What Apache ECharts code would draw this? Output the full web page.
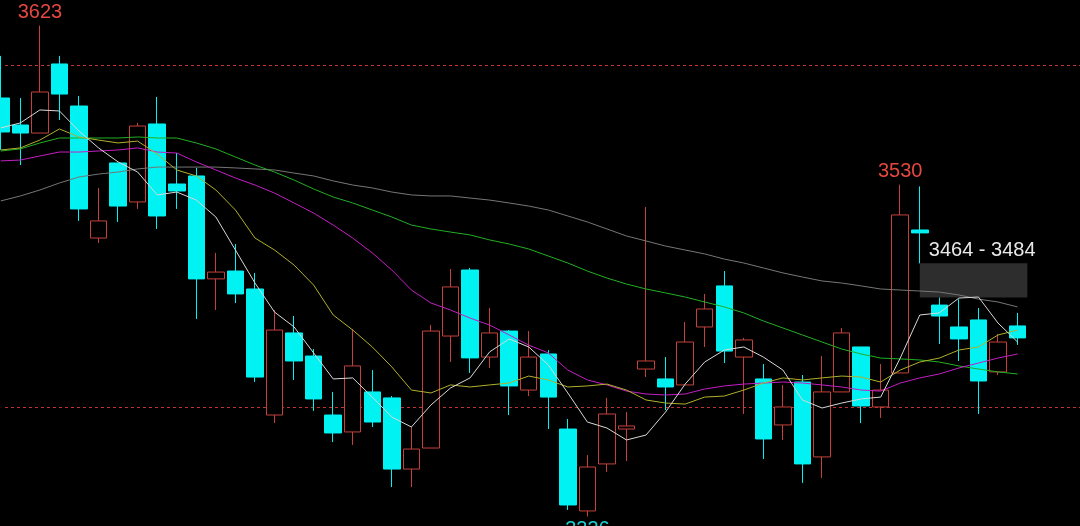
<!DOCTYPE html>
<html><head><meta charset="utf-8">
<script src="https://cdn.jsdelivr.net/npm/echarts@6/dist/echarts.min.js"></script>
<style>html,body{margin:0;padding:0;background:#000;overflow:hidden;width:1080px;height:526px;position:relative}
#c{position:absolute;left:-9px;top:0;width:1095px;height:526px;}</style>
</head><body><div id="c"></div>
<script>
// 56 category slots; 53 candles drawn, the last slots stay empty on the right
const categories = ['1','2','3','4','5','6','7','8','9','10','11','12','13','14','15','16','17','18','19','20',
 '21','22','23','24','25','26','27','28','29','30','31','32','33','34','35','36','37','38','39','40',
 '41','42','43','44','45','46','47','48','49','50','51','52','53','54','55','56'];

// [open, close, low, high]
const ohlc = [
 [3580.7,3560.8,3550.3,3605.3],[3564.9,3560.2,3541.5,3580.7],[3560.2,3584.2,3560.2,3623],[3600.6,3583.0,3567.8,3605.3],
 [3576.0,3515.8,3508.8,3581.9],[3498.8,3508.8,3495.9,3528.1],[3542.7,3517.5,3508.2,3542.7],[3519.9,3564.3,3515.8,3566.1],
 [3565.5,3511.7,3504.1,3581.3],[3530.4,3526.3,3515.8,3548.5],[3535.1,3474.9,3451.5,3539.8],[3474.9,3478.9,3456.7,3490.1],
 [3479.5,3466.1,3460.8,3495.3],[3469.0,3417.5,3414.6,3478.4],[3395.3,3445.0,3390.6,3456.7],[3443.3,3426.9,3415.8,3453.2],
 [3429.8,3404.7,3397.7,3433.9],[3395.3,3384.8,3379.5,3408.8],[3385.4,3424.0,3377.8,3445.6],[3408.8,3391.2,3388.3,3421.6],
 [3405.3,3363.7,3353.2,3406.4],[3363.7,3375.4,3353.2,3388.3],[3376.0,3444.4,3376.0,3448.0],[3441.5,3470.2,3426.3,3480.7],
 [3480.1,3428.7,3419.9,3481.3],[3429.2,3443.3,3422.8,3457.9],[3444.4,3412.3,3395.3,3445.0],[3409.9,3429.2,3406.4,3444.4],
 [3431.0,3405.8,3387.1,3433.3],[3387.1,3342.7,3339.8,3393.0],[3339.2,3364.9,3336,3371.9],[3366.7,3395.9,3362.0,3405.3],
 [3387.1,3388.9,3368.4,3397.1],[3422.2,3426.9,3417.5,3517.0],[3416.4,3411.7,3398.2,3429.2],[3412.9,3438.0,3412.9,3449.7],
 [3446.8,3457.3,3435.1,3466.1],[3470.8,3432.7,3425.7,3479.5],[3429.2,3439.2,3395.9,3440.4],[3416.4,3381.3,3369.6,3425.1],
 [3389.5,3400.0,3380.7,3412.9],[3414.6,3366.7,3355.6,3418.7],[3370.8,3408.8,3358.5,3429.8],[3408.8,3443.3,3408.8,3446.2],
 [3435.1,3400.6,3390.6,3435.1],[3400.0,3409.9,3393.6,3425.1],[3419.9,3512.3,3419.9,3530],[3503.5,3501.8,3484,3529],
 [3459.6,3453.2,3436.8,3464],[3446.8,3439.8,3426.9,3463],[3450.9,3415.2,3395.9,3457.9],[3420.5,3438.0,3418.7,3442.7],
 [3447.4,3440.4,3436.3,3455.0]
];

const maWhite = [3563.2,3566.1,3573.7,3573.1,3561.4,3551.5,3543.3,3537.4,3524.0,3525.7,3521.0,3511.1,3491.8,3472.5,3455.5,
 3446.8,3431.6,3416.4,3417.0,3405.8,3394.1,3388.3,3401.2,3411.1,3417.0,3432.2,3439.8,3435.1,3424.6,3408.2,3391.2,3387.7,
 3380.7,3383.6,3397.1,3413.4,3426.3,3433.3,3435.1,3429.2,3421.6,3404.1,3399.4,3402.3,3404.7,3405.8,3428.6,3453.8,3455.0,
 3463.7,3464.3,3449.1,3438.0];
const maYellow = [3550.3,3551.5,3556.1,3562.6,3557.9,3556.1,3554.4,3555.5,3547.9,3538.6,3535.1,3526.9,3515.2,3498.8,3491.8,
 3483.0,3471.3,3453.8,3445.0,3435.1,3423.4,3409.9,3408.2,3412.9,3411.7,3412.9,3414.0,3418.1,3415.8,3411.7,3412.3,3413.4,
 3409.9,3404.1,3402.3,3401.7,3405.8,3406.4,3409.9,3414.0,3417.0,3415.8,3417.0,3418.1,3417.5,3414.6,3421.6,3426.3,3428.6,
 3433.3,3435.1,3442.1,3445.0];
const maMagenta = [3543.9,3544.4,3546.8,3549.1,3549.1,3549.7,3550.3,3551.5,3549.1,3548.5,3543.3,3538.6,3533.9,3529.8,3525.1,
 3519.3,3513.4,3506.4,3498.8,3490.1,3480.1,3468.4,3460.8,3456.7,3452.0,3447.9,3442.1,3436.2,3431.6,3421.6,3415.8,3412.9,
 3409.3,3407.6,3407.0,3407.6,3410.5,3412.3,3413.4,3414.0,3414.6,3414.0,3412.9,3411.7,3409.9,3409.3,3414.0,3417.0,3419.3,
 3422.8,3425.7,3428.6,3431.0];
const maGreen = [3549.7,3550.9,3554.4,3557.3,3557.3,3557.3,3557.3,3557.9,3557.3,3557.3,3554.4,3550.9,3546.2,3541.5,3537.4,
 3532.7,3527.5,3522.8,3519.3,3515.2,3511.1,3506.4,3504.1,3502.3,3500.6,3497.7,3495.3,3492.4,3488.3,3484.2,3479.5,3475.4,
 3471.9,3469.0,3466.7,3464.3,3461.4,3458.5,3455.0,3450.3,3446.2,3442.1,3438.0,3433.9,3431.0,3428.6,3428.1,3427.5,3426.3,
 3424.0,3422.2,3420.5,3419.3];
const maGray = [3520.5,3523.4,3526.9,3531.0,3534.5,3536.2,3537.4,3539.2,3540.3,3540.3,3540.3,3540.3,3539.8,3539.2,3538.6,
 3536.8,3535.1,3532.2,3529.8,3528.1,3525.7,3524.0,3523.4,3523.4,3522.2,3521.0,3519.3,3517.5,3515.2,3511.7,3508.2,3504.1,
 3500.0,3497.1,3494.1,3491.8,3489.5,3486.5,3484.2,3481.3,3478.4,3476.0,3473.7,3472.5,3470.8,3469.0,3468.4,3467.8,3467.2,
 3465.5,3463.1,3461.4,3458.5];

const refLines = [3600, 3400];
const extremes = [
 {idx: 2, value: 3623, side: 'top', color: '#e5483f'},
 {idx: 46, value: 3530, side: 'top', color: '#e5483f'},
 {idx: 30, value: 3336, side: 'bottom', color: '#19d6d6'}
];
const gapLow = 3464, gapHigh = 3484, gapFrom = 47, gapTo = 52;

const FONT = 'Liberation Sans';
const chart = echarts.init(document.getElementById('c'), null, {renderer: 'canvas'});

function lineSeries(name, data, color) {
  return {type: 'line', name, data, symbol: 'none', smooth: false, silent: true,
    lineStyle: {color, width: 1}, itemStyle: {color}, z: 3};
}

chart.setOption({
  backgroundColor: '#000',
  animation: false,
  grid: {left: 0, right: 0, top: 0, bottom: 0},
  xAxis: {type: 'category', data: categories, show: false, boundaryGap: true},
  yAxis: {type: 'value', min: 3330.4, max: 3638, show: false, splitLine: {show: false}},
  series: [
    {
      type: 'candlestick', data: ohlc, barWidth: 17, silent: true,
      itemStyle: {color: '#000', color0: '#00f2f2', borderColor: '#c5403a', borderColor0: '#00f2f2', borderWidth: 1},
      markPoint: {
        silent: true, symbol: 'circle', symbolSize: 0,
        data: extremes.map(e => ({
          coord: [categories[e.idx], e.value],
          label: {show: true, formatter: String(e.value), position: e.side, distance: 3,
            color: e.color, fontSize: 20, fontFamily: FONT}
        }))
      }
    },
    lineSeries('MA60', maGray, '#767676'),
    lineSeries('MA30', maGreen, '#22b022'),
    lineSeries('MA20', maMagenta, '#c41ec4'),
    lineSeries('MA10', maYellow, '#b0b02c'),
    lineSeries('MA5', maWhite, '#d8d8d8')
  ]
});

const chartW = chart.getWidth();
const p1 = chart.convertToPixel({seriesIndex: 0}, [gapFrom, gapHigh]);
const p2 = chart.convertToPixel({seriesIndex: 0}, [gapTo, gapLow]);
const band = (p2[0] - p1[0]) / (gapTo - gapFrom);
const refGraphics = refLines.map(v => {
  const y = Math.round(chart.convertToPixel({yAxisIndex: 0}, v)) + 0.5;
  return {type: 'line', z: 0, silent: true,
    shape: {x1: 14, y1: y, x2: chartW, y2: y},
    style: {stroke: '#c23030', lineWidth: 1, lineDash: [3, 3]}};
});
chart.setOption({
  graphic: refGraphics.concat([
    {type: 'rect', z: 1, silent: true,
     shape: {x: p1[0], y: p1[1], width: p2[0] + band / 2 - p1[0], height: p2[1] - p1[1]},
     style: {fill: '#2d2d2d'}},
    {type: 'text', z: 1, silent: true, x: p1[0] + 9, y: p1[1] - 3,
     style: {text: gapLow + ' - ' + gapHigh, fill: '#e8e8e8', font: '20px "' + FONT + '"', verticalAlign: 'bottom', align: 'left'}}
  ])
});
</script>
</body></html>
